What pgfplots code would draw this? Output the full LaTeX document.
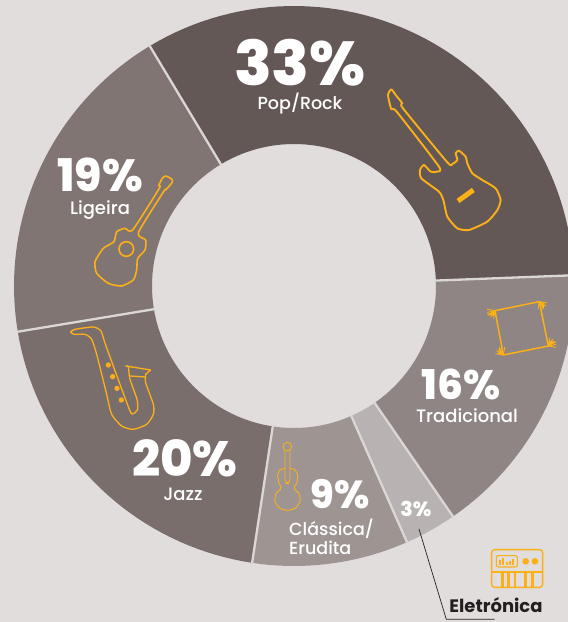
\documentclass[border=0pt]{standalone}
\usepackage{pgfplots}
\pgfplotsset{compat=1.18}
\usepackage{fontspec}
\setmainfont{Poppins}
\newfontfamily\heavy{Poppins ExtraBold}
\newfontfamily\med{Poppins Medium}
\definecolor{paper}{HTML}{E0DDDC}
\definecolor{gapline}{HTML}{DAD7D5}
\definecolor{wedgePop}{HTML}{645857}
\definecolor{wedgeTrad}{HTML}{8E8584}
\definecolor{wedgeElec}{HTML}{B8B3B2}
\definecolor{wedgeClass}{HTML}{9E9593}
\definecolor{wedgeJazz}{HTML}{7A6E6D}
\definecolor{wedgeLig}{HTML}{807573}
\definecolor{gold}{HTML}{FBB017}
\definecolor{ink}{HTML}{231F20}
% local frame for an icon: pixel position of its corner, in thirds of a unit
\tikzset{icon at/.style 2 args={shift={(#1pt,622pt-#2pt)},x=0.33333pt,y=-0.33333pt,
  draw=gold,line join=round,line cap=round}}
\newcommand{\sz}[1]{\fontsize{#1}{#1}\selectfont}
\begin{document}
\begin{tikzpicture}
\path[use as bounding box] (0,0) rectangle (568pt,622pt);
\begin{axis}[at={(0,0)},anchor=south west,scale only axis,width=568pt,height=622pt,
  xmin=0,xmax=568,ymin=0,ymax=622,y dir=reverse,hide axis,clip=true]
\addplot[fill=paper,draw=none] coordinates {(0,0)(568,0)(568,622)(0,622)} --cycle;
% ring slices, clockwise from the Pop/Rock edge
\gdef\cum{121}
\foreach \share/\col in {33/wedgePop,16/wedgeTrad,3/wedgeElec,9/wedgeClass,20/wedgeJazz,19/wedgeLig}{
  \pgfmathsetmacro\stop{\cum-\share*3.6}
  \pgfmathtruncatemacro\steps{ceil(\share*3.6/2)}
  \gdef\pts{}
  \foreach \i in {0,...,\steps}{
    \pgfmathsetmacro\t{\cum+(\stop-\cum)*\i/\steps}
    \pgfmathsetmacro\px{294+280*cos(\t)}
    \pgfmathsetmacro\py{286-280*sin(\t)}
    \xdef\pts{\pts (\px,\py)}
  }
  \foreach \i in {\steps,...,0}{
    \pgfmathsetmacro\t{\cum+(\stop-\cum)*\i/\steps}
    \pgfmathsetmacro\px{294+142*cos(\t)}
    \pgfmathsetmacro\py{286-142*sin(\t)}
    \xdef\pts{\pts (\px,\py)}
  }
  \edef\slice{\noexpand\addplot[fill=\col,draw=none] coordinates {\pts} --cycle;}
  \slice
  \xdef\cum{\stop}
}
% pale dividing lines between neighbouring slices
\gdef\cum{121}
\foreach \share in {33,16,3,9,20,19}{
  \pgfmathsetmacro\ax{294+141*cos(\cum)}
  \pgfmathsetmacro\ay{286-141*sin(\cum)}
  \pgfmathsetmacro\bx{294+281*cos(\cum)}
  \pgfmathsetmacro\by{286-281*sin(\cum)}
  \edef\divider{\noexpand\addplot[gapline,line width=2.3pt] coordinates {(\ax,\ay)(\bx,\by)};}
  \divider
  \pgfmathsetmacro\stop{\cum-\share*3.6}
  \xdef\cum{\stop}
}
% leader line to the outside label
\addplot[ink,line width=0.7pt] coordinates {(419,529)(446.3,619.3)(494.7,619.3)};
% labels
\tikzset{lab/.style={text=white,inner sep=0pt,anchor=base}}
\node[lab] at (axis cs:300,85) {\sz{62}\heavy 33\%};
\node[lab] at (axis cs:300,109) {\sz{17.5}\med Pop/Rock};
\node[lab] at (axis cs:100,191) {\sz{45}\heavy 19\%};
\node[lab] at (axis cs:100,214) {\sz{18}\med Ligeira};
\node[lab] at (axis cs:185,476) {\sz{49.5}\heavy 20\%};
\node[lab] at (axis cs:183,500) {\sz{18}\med Jazz};
\node[lab] at (axis cs:340,508) {\sz{39}\heavy 9\%};
\node[lab,anchor=base west] at (axis cs:289,535) {\sz{17.5}\med Clássica/};
\node[lab,anchor=base west] at (axis cs:289,554) {\sz{17.5}\med Erudita};
\node[lab] at (axis cs:461,399) {\sz{41}\heavy 16\%};
\node[lab] at (axis cs:467,422.7) {\sz{18}\med Tradicional};
\node[lab] at (axis cs:416,516.7) {\sz{20.5}\heavy 3\%};
\node[lab,text=ink] at (axis cs:496,612.7) {\sz{18}\bfseries Eletrónica};
\end{axis}

% electric guitar
\begin{scope}[icon at={284}{0}]
\draw[line width=1.9pt] plot[smooth cycle,tension=0.35] coordinates {
 (322,268)(312,285)(322,328)(338,335)(465,500)(458,515)(440,515)(420,495)(408,510)(412,535)
 (465,575)(478,600)(490,650)(520,685)(555,690)(610,665)(640,630)(650,600)(635,565)(595,540)
 (565,520)(550,490)(545,470)(525,452)(515,460)(520,480)(505,492)(490,487)(357,325)(355,310)(335,285)};
\draw[line width=5pt,line cap=butt] (522,603)--(568,570);
\end{scope}
% acoustic guitar
\begin{scope}[icon at={0}{0}]
\draw[line width=1.6pt] plot[smooth cycle,tension=0.35] coordinates {
 (497,528)(515,537)(517,547)(497,570)(492,573)(415,698)(437,720)(435,750)(413,775)(410,810)(400,840)
 (365,858)(325,850)(290,820)(285,785)(310,745)(342,725)(350,695)(375,685)(398,690)(478,565)(476,557)(487,535)};
\draw[line width=1.6pt] (379,747) circle[radius=22];
\end{scope}
% saxophone
\begin{scope}[icon at={0}{311}]
\draw[line width=1.3pt] plot[smooth,tension=0.35] coordinates {
 (212,63)(225,55)(280,48)(303,60)(318,105)(388,295)(400,308)(413,295)(411,265)(390,205)(385,168)(378,165)};
\draw[line width=1.3pt] (378,165)--(452,177)--(437,190);
\draw[line width=1.3pt] (390,195)--(437,198);
\draw[line width=1.3pt] plot[smooth,tension=0.4] coordinates {
 (437,190)(437,215)(460,280)(460,310)(440,340)(400,355)(365,345)(335,310)(320,250)(290,130)(275,85)(255,70)(222,70)(212,63)};
\foreach \kx/\ky in {325/162,338/197,351/232,364/267}
  \fill[gold] (\kx,\ky) circle[radius=8];
\end{scope}
% violin
\begin{scope}[icon at={265}{435}]
\draw[line width=0.9pt] (67,35) circle[radius=13];
\draw[line width=0.9pt,rounded corners=4pt] (60,47)--(60,145)--(75,145)--(75,47);
\draw[line width=0.9pt] plot[smooth,tension=0.4] coordinates {
 (60,100)(45,105)(38,120)(42,145)(48,155)(45,165)(33,175)(30,200)(45,220)(67,226)(90,220)(105,200)(102,175)(90,165)(88,155)(95,145)(98,120)(90,105)(75,100)};
\end{scope}
% framed drum with tasselled corners
\begin{scope}[icon at={480}{285}]
\draw[line width=1.5pt] (45,77)--(178,50)--(205,183)--(70,210)--cycle;
\foreach \cx/\cy/\ang in {45/77/145,178/50/55,205/183/-35,70/210/-125}{
  \fill[gold] (\cx,\cy)--++(\ang-45:16)--++(\ang+45:16*1.414)--cycle;
  \foreach \d in {-45,-22,0,22,45}
    \draw[line width=0.9pt,line cap=butt] (\cx,\cy)--++(\ang+\d:24);
}
\end{scope}
% electronic keyboard
\begin{scope}[icon at={485}{543}]
\draw[line width=1.4pt,rounded corners=3pt] (20,20) rectangle (173,133);
\draw[line width=1.9pt,line cap=butt] (20,87)--(173,87);
\draw[line width=1.1pt,rounded corners=2pt] (34,38) rectangle (97,72);
\foreach \bx/\bt in {45/50,54/45,66/58,75/53,84/48}
  \draw[line width=1.8pt,line cap=butt] (\bx,65)--(\bx,\bt);
\fill[gold] (122,55) circle[radius=10];
\fill[gold] (150,55) circle[radius=10];
\foreach \kx in {53,70,90,122,142}
  \draw[line width=2.6pt,line cap=butt] (\kx,87)--(\kx,131);
\end{scope}
\end{tikzpicture}
\end{document}
